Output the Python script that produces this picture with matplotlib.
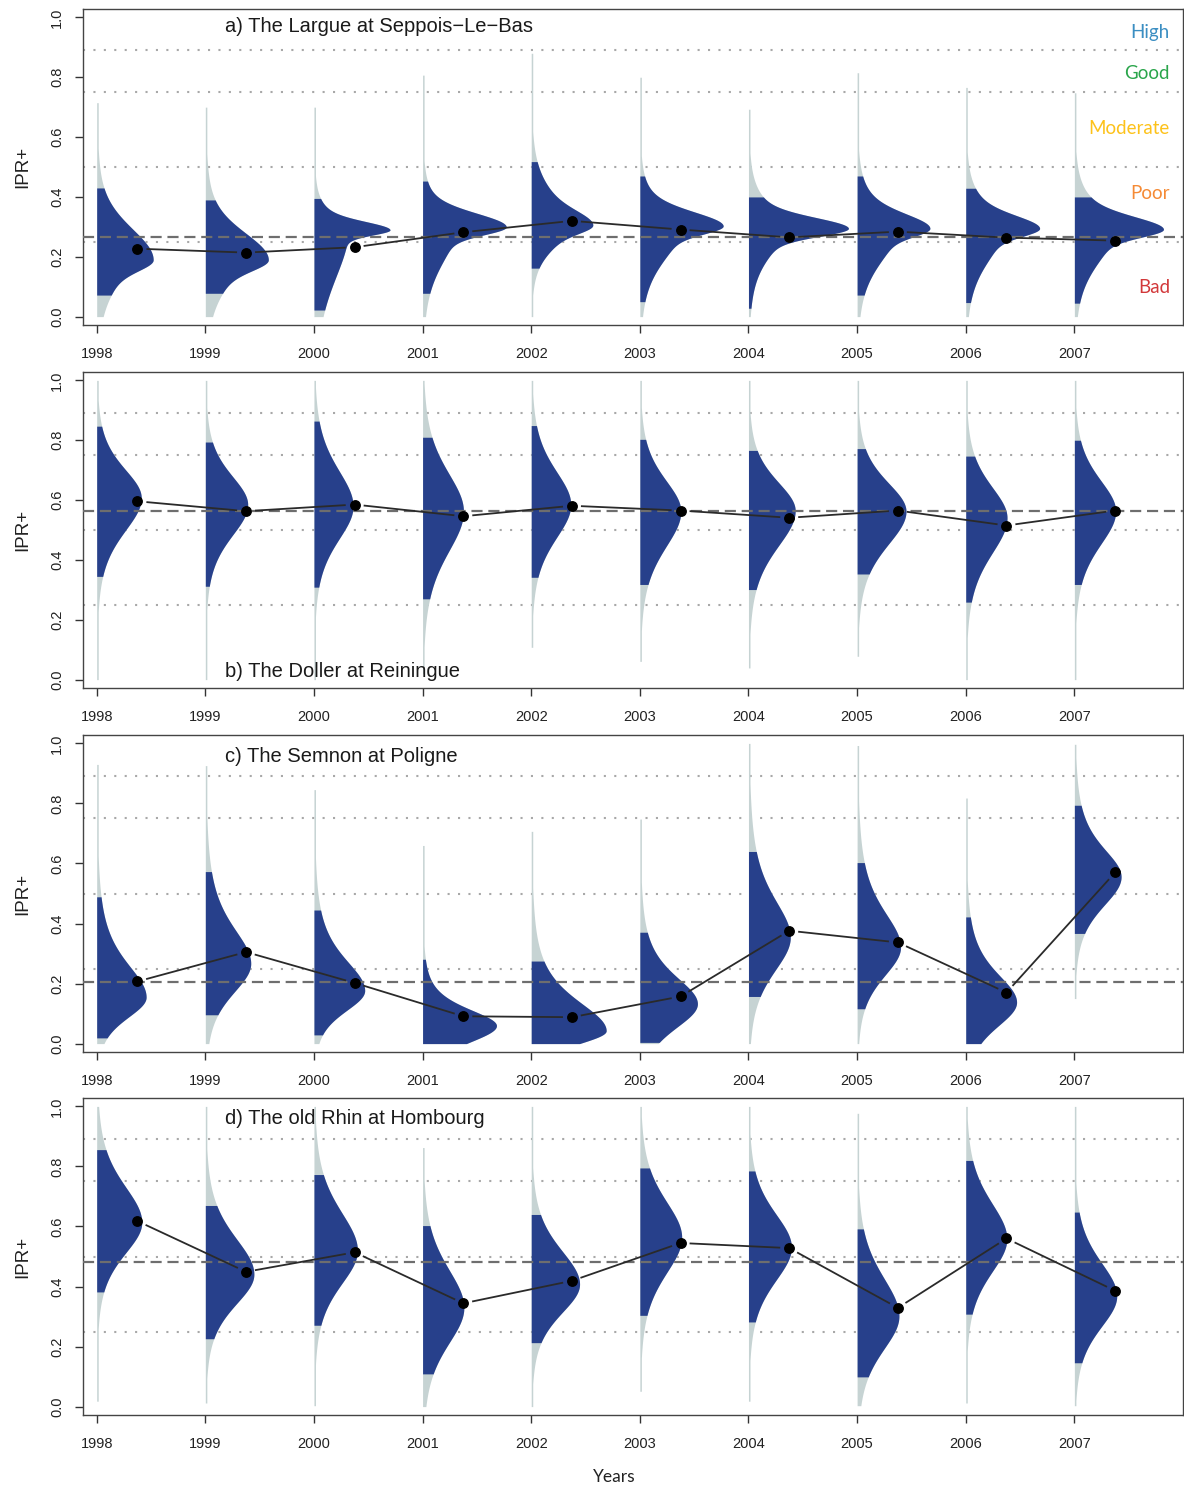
import numpy as np
import matplotlib
matplotlib.use("Agg")
import matplotlib.pyplot as plt

plt.rcParams["font.family"] = ["Liberation Sans", "DejaVu Sans"]

YEARS = list(range(1998, 2008))
TITLES = ["a) The Largue at Seppois\u2212Le\u2212Bas", "b) The Doller at Reiningue",
          "c) The Semnon at Poligne", "d) The old Rhin at Hombourg"]

# Each half-violin: a sharp spike plus a broader base, both centred on MODE.
# SPIKE is the spike's share of the peak width; S_* / B_* are half-widths at
# half-height below (LO) and above (HI) the mode; NLO/NHI are the base tail weights.

# ---- a) Largue ----
A_MODE = [0.19, 0.19, 0.29, 0.30, 0.306, 0.303, 0.295, 0.295, 0.295, 0.292]
A_PEAK = [0.52, 0.58, 0.70, 0.77, 0.567, 0.767, 0.92, 0.67, 0.68, 0.82]
A_SPIKE = [0.5, 0.5, 0.55, 0.6, 0.4, 0.5, 0.65, 0.45, 0.5, 0.55]
A_SLO = [0.04, 0.04, 0.02, 0.03, 0.03, 0.03, 0.03, 0.03, 0.03, 0.03]
A_SHI = [0.12, 0.10, 0.03, 0.05, 0.05, 0.05, 0.04, 0.05, 0.045, 0.045]
A_BLO = [0.12, 0.12, 0.20, 0.14, 0.09, 0.13, 0.11, 0.13, 0.13, 0.13]
A_BHI = [0.14, 0.13, 0.06, 0.08, 0.12, 0.08, 0.09, 0.09, 0.09, 0.09]
A_NLO = [4, 4, 6, 6, 6, 6, 4, 6, 6, 6]
A_NHI = [4, 4, 3, 4, 6, 4, 4, 4, 4, 4]
A_LO = [0.072, 0.078, 0.022, 0.078, 0.162, 0.05, 0.028, 0.072, 0.047, 0.045]
A_HI = [0.43, 0.39, 0.395, 0.453, 0.518, 0.47, 0.40, 0.47, 0.429, 0.40]
A_MIN = [0.0] * 10
A_MAX = [0.715, 0.70, 0.70, 0.807, 0.88, 0.80, 0.693, 0.815, 0.766, 0.748]
A_PT = [0.227, 0.214, 0.232, 0.282, 0.320, 0.291, 0.265, 0.284, 0.264, 0.254]

# ---- b) Doller ----
B_MODE = [0.608, 0.585, 0.58, 0.563, 0.585, 0.563, 0.565, 0.563, 0.541, 0.563]
B_PEAK = [0.41, 0.39, 0.36, 0.376, 0.364, 0.377, 0.43, 0.45, 0.38, 0.38]
B_SPIKE = [0.0] * 10
B_SLO = [0.0] * 10
B_SHI = [0.0] * 10
B_BLO = [0.14, 0.13, 0.14, 0.17, 0.14, 0.15, 0.15, 0.14, 0.15, 0.14]
B_BHI = [0.12, 0.12, 0.15, 0.16, 0.14, 0.13, 0.12, 0.12, 0.13, 0.13]
B_NLO = [6] * 10
B_NHI = [6] * 10
B_LO = [0.345, 0.312, 0.309, 0.27, 0.342, 0.318, 0.301, 0.353, 0.259, 0.318]
B_HI = [0.847, 0.794, 0.864, 0.81, 0.849, 0.803, 0.766, 0.772, 0.747, 0.80]
B_MIN = [0.0, 0.0, 0.0, 0.02, 0.108, 0.061, 0.039, 0.078, 0.0, 0.0]
B_MAX = [1.0] * 10
B_PT = [0.596, 0.563, 0.585, 0.546, 0.581, 0.565, 0.541, 0.565, 0.515, 0.565]

# ---- c) Semnon ----
C_MODE = [0.155, 0.267, 0.177, 0.06, 0.043, 0.133, 0.355, 0.322, 0.138, 0.556]
C_PEAK = [0.455, 0.418, 0.467, 0.68, 0.69, 0.53, 0.385, 0.40, 0.468, 0.43]
C_SPIKE = [0.0] * 10
C_SLO = [0.0] * 10
C_SHI = [0.0] * 10
C_BLO = [0.085, 0.12, 0.085, 0.07, 0.055, 0.1, 0.14, 0.12, 0.1, 0.12]
C_BHI = [0.14, 0.15, 0.13, 0.07, 0.125, 0.115, 0.16, 0.15, 0.12, 0.12]
C_NLO = [6] * 10
C_NHI = [3] * 10
C_LO = [0.019, 0.096, 0.029, 0.0, 0.0, 0.004, 0.157, 0.116, 0.0, 0.367]
C_HI = [0.489, 0.573, 0.445, 0.281, 0.275, 0.371, 0.64, 0.603, 0.422, 0.794]
C_MIN = [0.0] * 9 + [0.15]
C_MAX = [0.93, 0.926, 0.846, 0.66, 0.707, 0.748, 1.0, 0.993, 0.818, 0.997]
C_PT = [0.207, 0.305, 0.202, 0.091, 0.088, 0.157, 0.376, 0.337, 0.17, 0.57]

# ---- d) old Rhin ----
D_MODE = [0.614, 0.441, 0.52, 0.33, 0.408, 0.564, 0.531, 0.302, 0.559, 0.369]
D_PEAK = [0.415, 0.447, 0.40, 0.38, 0.445, 0.385, 0.395, 0.385, 0.378, 0.39]
D_SPIKE = [0.0] * 10
D_SLO = [0.0] * 10
D_SHI = [0.0] * 10
D_BLO = [0.13, 0.125, 0.14, 0.15, 0.12, 0.15, 0.14, 0.14, 0.14, 0.13]
D_BHI = [0.15, 0.15, 0.16, 0.16, 0.14, 0.15, 0.14, 0.16, 0.15, 0.14]
D_NLO = [6] * 10
D_NHI = [6] * 10
D_LO = [0.382, 0.226, 0.271, 0.109, 0.213, 0.304, 0.282, 0.099, 0.308, 0.146]
D_HI = [0.856, 0.67, 0.773, 0.603, 0.64, 0.795, 0.785, 0.592, 0.82, 0.648]
D_MIN = [0.018, 0.012, 0.003, 0.0, 0.0, 0.051, 0.018, 0.003, 0.012, 0.003]
D_MAX = [1.0, 1.0, 1.0, 0.863, 1.0, 1.0, 1.0, 0.977, 1.0, 1.0]
D_PT = [0.618, 0.449, 0.514, 0.344, 0.419, 0.545, 0.528, 0.329, 0.56, 0.386]

PANELS = [
    (A_MODE, A_PEAK, A_SPIKE, A_SLO, A_SHI, A_BLO, A_BHI, A_NLO, A_NHI, A_LO, A_HI, A_MIN, A_MAX, A_PT),
    (B_MODE, B_PEAK, B_SPIKE, B_SLO, B_SHI, B_BLO, B_BHI, B_NLO, B_NHI, B_LO, B_HI, B_MIN, B_MAX, B_PT),
    (C_MODE, C_PEAK, C_SPIKE, C_SLO, C_SHI, C_BLO, C_BHI, C_NLO, C_NHI, C_LO, C_HI, C_MIN, C_MAX, C_PT),
    (D_MODE, D_PEAK, D_SPIKE, D_SLO, D_SHI, D_BLO, D_BHI, D_NLO, D_NHI, D_LO, D_HI, D_MIN, D_MAX, D_PT),
]

CLASS_LIMITS = [0.25, 0.5, 0.75, 0.89]
CLASS_NAMES = ["High", "Good", "Moderate", "Poor", "Bad"]
CLASS_Y = [0.950, 0.813, 0.630, 0.413, 0.096]
CLASS_COLORS = ["#3b8ec2", "#2aa54b", "#fdc21a", "#f58a35", "#d2383a"]

BLUE = "#27408B"
GREY = "#c6d3d3"
POINT_DX = 0.375
TAIL_W = 0.014


def kernel(y, mode, hlo, hhi, nlo, nhi):
    below = y < mode
    h = np.maximum(np.where(below, hlo, hhi), 1e-6)
    nu = np.where(below, nlo, nhi).astype(float)
    s = h / np.sqrt(nu * (2 ** (2 / (nu + 1)) - 1))
    z = (y - mode) / s
    return (1 + z ** 2 / nu) ** (-(nu + 1) / 2)


def profile(y, p):
    mode, peak, f, slo, shi, blo, bhi, nlo, nhi = p
    spike = kernel(y, mode, slo, shi, 60, 60) if f > 0 else 0.0
    base = kernel(y, mode, blo, bhi, nlo, nhi)
    return peak * (f * spike + (1 - f) * base)


fig = plt.figure(figsize=(11.84, 14.90), dpi=100)
W, H = 1184.0, 1490.0
tops = [9, 372, 735, 1098]
bottoms = [325, 688, 1052, 1415]
left_px, right_px = 83, 1183

title_pos = [(1999.18, 0.970), (1999.18, 0.027), (1999.18, 0.955), (1999.18, 0.961)]

for k, panel in enumerate(PANELS):
    (mode, peak, spk, slo, shi, blo, bhi, nlo, nhi, lo, hi, ymin, ymax, pt) = panel
    ax = fig.add_axes([left_px / W, 1 - bottoms[k] / H,
                       (right_px - left_px) / W, (bottoms[k] - tops[k]) / H])
    ax.set_xlim(1997.874, 2008.0)
    ax.set_ylim(-0.028, 1.028)

    for lim in CLASS_LIMITS:
        ax.axhline(lim, color="#a8a8a8", lw=1.5, ls=(0, (1, 4)), zorder=1)

    for i, yr in enumerate(YEARS):
        p = (mode[i], peak[i], spk[i], slo[i], shi[i], blo[i], bhi[i], nlo[i], nhi[i])
        y = np.linspace(ymin[i], ymax[i], 900)
        w = np.maximum(profile(y, p), TAIL_W)
        ax.fill_betweenx(y, yr, yr + w, color=GREY, lw=0, zorder=2)
        yb = np.linspace(max(lo[i], ymin[i]), min(hi[i], ymax[i]), 700)
        wb = np.maximum(profile(yb, p), TAIL_W)
        ax.fill_betweenx(yb, yr, yr + wb, color=BLUE, lw=0, zorder=3)

    ax.axhline(np.median(pt), color="#6e6e6e", lw=1.6, ls=(0, (5, 2.6)), zorder=4)

    # connecting segments with a gap around each point
    px = np.array(YEARS, dtype=float) + POINT_DX
    py = np.array(pt)
    disp = ax.transData.transform(np.column_stack([px, py]))
    inv = ax.transData.inverted()
    gap = 9.0
    for i in range(len(px) - 1):
        p0, p1 = disp[i], disp[i + 1]
        d = p1 - p0
        L = np.hypot(*d)
        if L <= 2 * gap:
            continue
        u = d / L
        a = inv.transform(p0 + u * gap)
        b = inv.transform(p1 - u * gap)
        ax.plot([a[0], b[0]], [a[1], b[1]], color="#2a2a2a", lw=1.3, zorder=5,
                solid_capstyle="butt")
    ax.plot(px, py, "o", color="black", ms=6.8, zorder=6)

    tx, ty = title_pos[k]
    ax.text(tx, ty, TITLES[k], fontsize=14.5, ha="left", va="center", color="#1a1a1a", zorder=7)

    ax.set_xticks(YEARS)
    ax.set_xticklabels([str(y) for y in YEARS])
    ax.set_yticks([0.0, 0.2, 0.4, 0.6, 0.8, 1.0])
    ax.set_yticklabels(["0.0", "0.2", "0.4", "0.6", "0.8", "1.0"], rotation=90, va="center")
    ax.tick_params(axis="both", direction="out", length=5.5, width=1, color="#333333",
                   labelsize=10.5, labelcolor="#222222")
    ax.tick_params(axis="x", pad=10.5)
    ax.tick_params(axis="y", pad=8)
    for sp in ax.spines.values():
        sp.set_color("#444444")
        sp.set_linewidth(1.0)
    ax.set_ylabel("IPR+", fontsize=13.5, color="#222222", labelpad=14)

    if k == 0:
        for name, yy, col in zip(CLASS_NAMES, CLASS_Y, CLASS_COLORS):
            ax.text(2007.88, yy, name, color=col, fontsize=13.5, ha="right", va="center",
                    family=["Lato", "DejaVu Sans"], zorder=7)

fig.text(614 / W, 1 - 1477 / H, "Years", fontsize=12.5, ha="center", va="center",
         color="#222222", family=["Lato", "DejaVu Sans"])

fig.savefig("out.png", dpi=100)
